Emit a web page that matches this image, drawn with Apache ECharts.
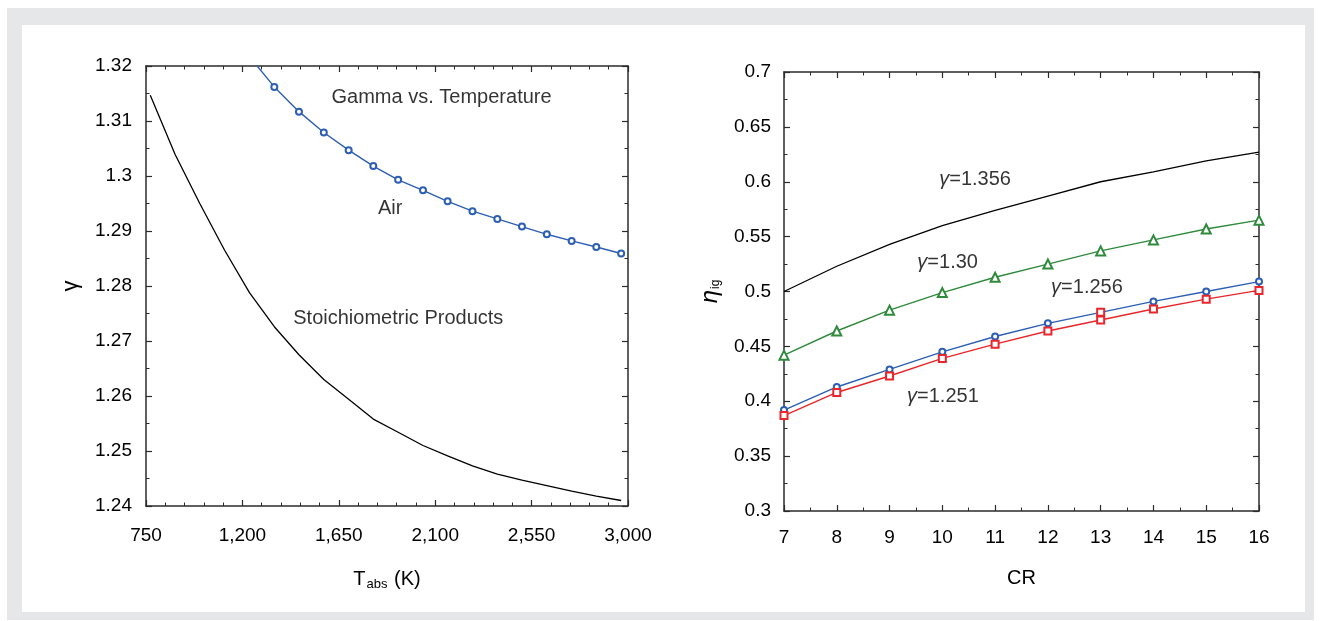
<!DOCTYPE html>
<html>
<head>
<meta charset="utf-8" />
<title>Gamma vs. Temperature / efficiency vs. CR</title>
<style>
  body { margin: 0; background: #fff; }
  #frame { position: absolute; left: 7px; top: 8px; width: 1307px; height: 612px; background: #e6e7e8; }
  #panel { position: absolute; left: 22px; top: 25px; width: 1283px; height: 587px; background: #fff; }
  #chart { position: absolute; left: 0; top: 0; width: 1321px; height: 621px; }
</style>
</head>
<body>
<div id="frame"></div>
<div id="panel"></div>
<div id="chart"></div>
<script src="https://cdn.jsdelivr.net/npm/echarts@6.0.0/dist/echarts.min.js"></script>
<script>
// ---- left panel: gamma vs temperature
var tempK = [770, 886, 1001, 1117, 1233, 1349, 1464, 1580, 1696, 1811, 1927, 2043, 2158, 2274, 2390, 2505, 2621, 2737, 2852, 2968];
var gammaProducts = [1.3147, 1.3039, 1.2950, 1.2865, 1.2788, 1.2726, 1.2675, 1.2630, 1.2594, 1.2558,
                     1.2534, 1.2510, 1.2491, 1.2473, 1.2458, 1.2447, 1.2437, 1.2427, 1.2418, 1.2410];
// air only starts at 1233 K (first point is above the axis top)
var gammaAir = [null, null, null, null, 1.3217, 1.3162, 1.3117, 1.3079, 1.3047, 1.3018,
                1.2993, 1.2974, 1.2954, 1.2936, 1.2922, 1.2908, 1.2894, 1.2882, 1.2871, 1.2859];
var leftNotes = [
    [2132, 1.3142, 'Gamma vs. Temperature'],
    [1892, 1.2940, 'Air'],
    [1930, 1.2740, 'Stoichiometric Products']
];

// ---- right panel: efficiency vs compression ratio
var cr = [7, 8, 9, 10, 11, 12, 13, 14, 15, 16];
var eta1356 = [0.500, 0.523, 0.543, 0.560, 0.574, 0.587, 0.600, 0.609, 0.619, 0.627];
var eta130  = [0.442, 0.464, 0.483, 0.499, 0.513, 0.525, 0.537, 0.547, 0.557, 0.565];
var eta1256 = [0.392, 0.413, 0.429, 0.445, 0.459, 0.471, 0.481, 0.491, 0.500, 0.509];
var eta1251 = [0.387, 0.408, 0.423, 0.439, 0.452, 0.464, 0.474, 0.484, 0.493, 0.501];
var rightNotes = [
    [10.63, 0.602, '{g|γ}=1.356'],
    [10.11, 0.526, '{g|γ}=1.30'],
    [12.75, 0.503, '{g|γ}=1.256'],
    [10.02, 0.404, '{g|γ}=1.251']
];
// in the original the 1.256 curve has a red square at CR 13
var oddMarkerCR = 13;

var FONT = '"Liberation Sans", Arial, Helvetica, sans-serif';
var INK = '#000000';
var AXIS = '#2b2b2b';
var BLUE = '#2c5fb4';
var GREEN = '#2f8a3c';
var RED = '#e8262b';

function pairs(xs, ys) {
    var out = [];
    for (var i = 0; i < xs.length; i++) {
        if (ys[i] !== null) out.push([xs[i], ys[i]]);
    }
    return out;
}

function makeAxis(grid, pos, min, max, interval, minorSplit, showLabel, margin, fmt) {
    var ax = {
        type: 'value',
        gridIndex: grid,
        position: pos,
        min: min,
        max: max,
        interval: interval,
        scale: true,
        splitLine: { show: false },
        axisLine: { show: true, onZero: false, lineStyle: { color: AXIS, width: 1.5 } },
        axisTick: { show: true, inside: true, length: 6, lineStyle: { color: AXIS, width: 1.2 } },
        minorTick: { show: true, splitNumber: minorSplit, length: 3.5, lineStyle: { color: AXIS, width: 1 } },
        axisLabel: { show: showLabel, color: INK, fontSize: 19, fontFamily: FONT, margin: margin || 13 }
    };
    if (fmt) ax.axisLabel.formatter = fmt;
    return ax;
}

function noteSeries(xi, yi, notes) {
    return {
        type: 'scatter',
        xAxisIndex: xi,
        yAxisIndex: yi,
        silent: true,
        symbol: 'circle',
        symbolSize: 1,
        itemStyle: { color: 'rgba(0,0,0,0)' },
        data: notes,
        z: 5,
        label: {
            show: true,
            position: [0, 0],
            align: 'center',
            verticalAlign: 'middle',
            formatter: function (p) { return p.data[2]; },
            color: INK,
            textBorderWidth: 0,
            fontSize: 20,
            fontFamily: FONT,
            rich: { g: { fontStyle: 'italic', fontSize: 20, fontFamily: FONT, color: INK, textBorderWidth: 0 } }
        }
    };
}

function lineSeries(xi, yi, data, color, symbol, size, width) {
    return {
        type: 'line',
        xAxisIndex: xi,
        yAxisIndex: yi,
        data: data,
        clip: true,
        symbol: symbol,
        symbolSize: size,
        showSymbol: symbol !== 'none',
        lineStyle: { color: color, width: width },
        itemStyle: { color: color, borderColor: color, borderWidth: 1.2 },
        emphasis: { disabled: true }
    };
}

var chart = echarts.init(document.getElementById('chart'));

var thousands = function (v) { return v.toLocaleString('en-US'); };

var xLeft = makeAxis(0, 'bottom', 750, 3000, 450, 5, true, 20, thousands);
xLeft.name = '{t|T}{s|abs}{t| (K)}';
xLeft.nameLocation = 'middle';
xLeft.nameGap = 62;
xLeft.nameTextStyle = {
    rich: {
        t: { fontSize: 20, fontFamily: FONT, color: INK },
        s: { fontSize: 13, fontFamily: FONT, color: INK, padding: [10, 1, 0, 1] }
    }
};
var yLeft = makeAxis(0, 'left', 1.24, 1.32, 0.01, 2, true, 14);
yLeft.axisLabel.padding = [5, 0, 0, 0];
yLeft.name = 'γ';
yLeft.nameLocation = 'middle';
yLeft.nameGap = 64;
yLeft.nameTextStyle = { fontSize: 22, fontFamily: FONT, color: INK };

var xRight = makeAxis(1, 'bottom', 7, 16, 1, 2, true, 17);
xRight.name = 'CR';
xRight.nameLocation = 'middle';
xRight.nameGap = 57;
xRight.nameTextStyle = { fontSize: 20, fontFamily: FONT, color: INK };
var yRight = makeAxis(1, 'left', 0.3, 0.7, 0.05, 2, true, 13);
yRight.name = '{e|η}{s|ig}';
yRight.nameLocation = 'middle';
yRight.nameGap = 62;
yRight.nameTextStyle = {
    rich: {
        e: { fontSize: 24, fontStyle: 'italic', fontFamily: FONT, color: INK },
        s: { fontSize: 12, fontFamily: FONT, color: INK, padding: [12, 0, 0, 1] }
    }
};

var blue1256 = pairs(cr, eta1256).map(function (d) {
    if (d[0] === oddMarkerCR) {
        return { value: d, symbol: 'emptyRect', symbolSize: 7, itemStyle: { color: RED, borderColor: RED } };
    }
    return d;
});

var option = {
    animation: false,
    textStyle: { fontFamily: FONT },
    grid: [
        { left: 146, top: 66, width: 482, height: 440, containLabel: false, outerBoundsMode: 'none' },
        { left: 784, top: 72, width: 475, height: 439, containLabel: false, outerBoundsMode: 'none' }
    ],
    xAxis: [
        xLeft,
        makeAxis(0, 'top', 750, 3000, 450, 5, false),
        xRight,
        makeAxis(1, 'top', 7, 16, 1, 2, false)
    ],
    yAxis: [
        yLeft,
        makeAxis(0, 'right', 1.24, 1.32, 0.01, 2, false),
        yRight,
        makeAxis(1, 'right', 0.3, 0.7, 0.05, 2, false)
    ],
    series: [
        lineSeries(0, 0, pairs(tempK, gammaProducts), INK, 'none', 0, 1.3),
        lineSeries(0, 0, pairs(tempK, gammaAir), BLUE, 'emptyCircle', 6, 1.4),
        noteSeries(0, 0, leftNotes),

        lineSeries(2, 2, pairs(cr, eta1356), INK, 'none', 0, 1.3),
        lineSeries(2, 2, pairs(cr, eta130), GREEN, 'emptyTriangle', 9, 1.4),
        lineSeries(2, 2, blue1256, BLUE, 'emptyCircle', 6, 1.4),
        lineSeries(2, 2, pairs(cr, eta1251), RED, 'emptyRect', 7, 1.4),
        noteSeries(2, 2, rightNotes)
    ]
};

chart.setOption(option);
</script>
</body>
</html>
